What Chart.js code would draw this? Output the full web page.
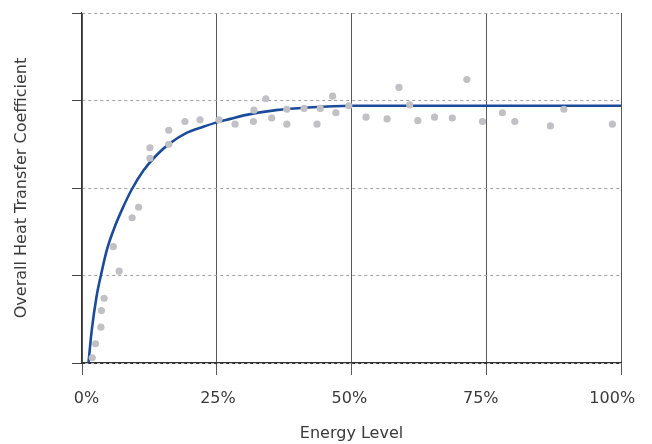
<!DOCTYPE html>
<html>
<head>
<meta charset="utf-8">
<script src="https://cdn.jsdelivr.net/npm/chart.js@4"></script>
<style>
  html, body { margin: 0; padding: 0; background: #fff; }
</style>
</head>
<body>
<canvas id="chart" width="652" height="444"></canvas>
<script>
// measured points (energy level %, coefficient)
const scatterX = [1.9, 2.5, 3.5, 3.6, 4.1, 5.8, 6.9, 9.3, 10.5, 12.6, 12.6, 16.1, 16.1, 19.1, 21.9, 25.4, 28.4, 31.8, 31.9, 34.1, 35.2, 38.0, 38.0, 41.2, 43.6, 44.2, 46.5, 47.1, 49.5, 52.7, 56.6, 58.8, 60.8, 62.3, 65.4, 68.7, 71.4, 74.3, 78.0, 80.3, 86.9, 89.4, 98.4];
const scatterY = [0.06, 0.22, 0.41, 0.60, 0.74, 1.33, 1.05, 1.66, 1.78, 2.34, 2.46, 2.50, 2.66, 2.76, 2.78, 2.78, 2.73, 2.76, 2.89, 3.02, 2.80, 2.73, 2.90, 2.91, 2.73, 2.91, 3.05, 2.86, 2.94, 2.81, 2.79, 3.15, 2.95, 2.77, 2.81, 2.80, 3.24, 2.76, 2.86, 2.76, 2.71, 2.90, 2.73];

// fitted curve
const curveX = [1.2, 1.8, 2.7, 3.5, 4.6, 6.1, 7.4, 9.2, 11.4, 13.9, 16.3, 19.4, 22.5, 25.0, 27.5, 30, 36, 42, 50, 60, 75, 100];
const curveY = [0.0, 0.37, 0.76, 1.0, 1.29, 1.56, 1.75, 1.98, 2.20, 2.38, 2.51, 2.63, 2.70, 2.75, 2.79, 2.83, 2.89, 2.92, 2.94, 2.94, 2.94, 2.94];

const xTicks = [0, 25, 50, 75, 100];

const font = { family: "'DejaVu Sans', sans-serif", size: 16 };
const textColor = '#3a3a3a';

new Chart(document.getElementById('chart'), {
  type: 'scatter',
  data: {
    datasets: [
      {
        label: 'Measured',
        data: scatterX.map((x, i) => ({ x: x, y: scatterY[i] })),
        backgroundColor: '#c0c0c5',
        borderWidth: 0,
        pointRadius: 3.6
      },
      {
        label: 'Fit',
        type: 'line',
        data: curveX.map((x, i) => ({ x: x, y: curveY[i] })),
        borderColor: '#1c4b9a',
        borderWidth: 2.6,
        pointRadius: 0,
        fill: false,
        cubicInterpolationMode: 'monotone'
      }
    ]
  },
  options: {
    responsive: false,
    animation: false,
    layout: { padding: { top: 13, right: 31, left: 0, bottom: 0 } },
    plugins: { legend: { display: false }, tooltip: { enabled: false } },
    scales: {
      x: {
        type: 'linear',
        position: 'bottom',
        weight: 0,
        min: 0,
        max: 100,
        afterBuildTicks: s => { s.ticks = xTicks.map(v => ({ value: v })); },
        ticks: { display: false },
        grid: { color: '#5a5a5a', tickLength: 12, tickColor: '#5a5a5a' },
        border: { color: '#333', width: 1.2 },
        afterFit: s => { s.height = 12; }
      },
      // label axis: the printed percentages sit slightly off the grid lines
      x2: {
        type: 'linear',
        position: 'bottom',
        weight: 1,
        min: -0.856,
        max: 101.67,
        bounds: 'data',
        afterBuildTicks: s => { s.ticks = xTicks.map(v => ({ value: v })); },
        ticks: {
          font: font,
          color: textColor,
          padding: 14,
          maxRotation: 0,
          callback: v => v + '%'
        },
        grid: { display: false, drawTicks: false },
        border: { display: false },
        title: {
          display: true,
          text: 'Energy Level',
          font: font,
          color: textColor,
          padding: { top: 0, bottom: 1 }
        },
        afterFit: s => { s.height = 69; }
      },
      y: {
        min: 0,
        max: 4,
        ticks: { display: false, stepSize: 1 },
        grid: {
          color: c => (c.tick && c.tick.value === 0) ? '#333' : '#a0a0a0',
          tickColor: '#444',
          tickLength: 10,
          tickBorderDash: []
        },
        border: { color: '#333', width: 1.2, dash: [3, 3] },
        title: {
          display: true,
          text: 'Overall Heat Transfer Coefficient',
          font: font,
          color: textColor,
          padding: { top: 12, bottom: 0 }
        },
        afterFit: s => { s.width = 82; }
      }
    }
  }
});
</script>
</body>
</html>
